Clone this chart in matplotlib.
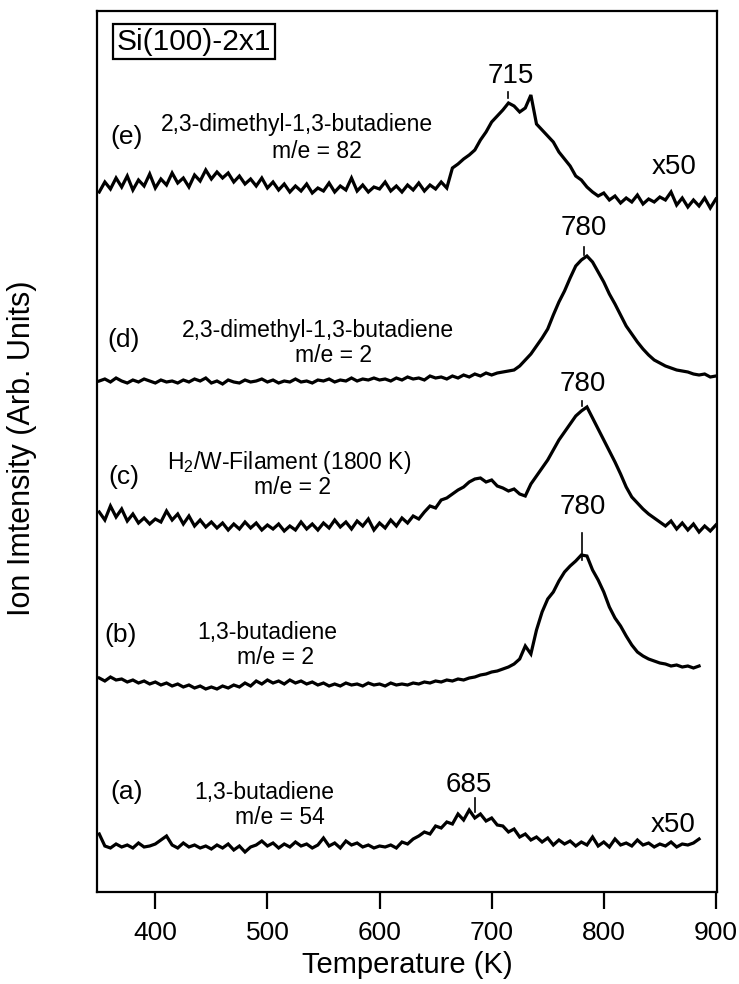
import numpy as np
import matplotlib
matplotlib.use("Agg")
import matplotlib.pyplot as plt

plt.rcParams['font.family'] = ['Liberation Sans', 'DejaVu Sans']
plt.rcParams['mathtext.fontset'] = 'custom'
plt.rcParams['mathtext.rm'] = 'Liberation Sans'

# ---- data (ion intensity, arbitrary units incl. vertical offsets), T from 350 K in 5 K steps ----
T_START = 350
T_STEP = 5

curve_e = [700, 710, 703, 714, 705, 716, 702, 712, 706, 718, 704, 713, 707, 719, 709, 714,
           705, 717, 711, 722, 713, 720, 714, 719, 710, 716, 708, 713, 706, 714, 704, 710,
           702, 708, 700, 706, 701, 708, 699, 704, 701, 709, 700, 706, 702, 714, 701, 707,
           700, 705, 703, 710, 701, 706, 700, 707, 702, 709, 701, 707, 703, 710, 704, 724,
           728, 733, 737, 742, 752, 760, 770, 776, 782, 789, 786, 780, 784, 797, 768, 762,
           756, 750, 740, 733, 726, 716, 712, 705, 700, 696, 699, 692, 696, 689, 694, 690,
           697, 688, 693, 690, 695, 692, 700, 687, 694, 685, 692, 686, 694, 684, 693]

curve_d = [511, 513, 510, 514, 511, 509, 512, 510, 513, 511, 509, 512, 510, 511, 509, 512,
           510, 513, 511, 514, 509, 511, 508, 512, 510, 509, 512, 510, 511, 513, 510, 512,
           509, 511, 510, 513, 510, 511, 509, 512, 511, 513, 510, 512, 511, 514, 511, 513,
           512, 514, 512, 513, 511, 514, 512, 515, 513, 514, 512, 516, 514, 515, 513, 516,
           514, 517, 515, 518, 516, 519, 517, 519, 520, 521, 522, 526, 532, 538, 546, 554,
           563, 577, 590, 601, 614, 626, 632, 636, 630, 620, 610, 598, 588, 577, 566, 558,
           550, 543, 537, 532, 529, 526, 524, 522, 521, 520, 518, 517, 518, 515, 516]

curve_c = [380, 372, 386, 375, 383, 371, 378, 369, 374, 368, 373, 370, 381, 372, 378, 368,
           376, 366, 372, 365, 370, 364, 369, 362, 368, 363, 370, 364, 369, 362, 367, 363,
           368, 361, 366, 362, 370, 363, 368, 362, 369, 364, 372, 365, 370, 363, 371, 366,
           373, 362, 369, 364, 372, 366, 374, 369, 376, 373, 380, 386, 384, 392, 394, 398,
           402, 405, 410, 413, 414, 410, 412, 406, 404, 401, 403, 398, 396, 408, 416, 424,
           432, 442, 452, 460, 468, 476, 481, 485, 474, 463, 452, 441, 430, 418, 405, 395,
           389, 383, 378, 374, 370, 366, 371, 363, 369, 362, 368, 360, 366, 361, 367]

curve_b = [214, 211, 215, 212, 213, 210, 212, 209, 211, 208, 210, 207, 209, 206, 208, 205,
           207, 204, 206, 203, 205, 203, 206, 204, 207, 205, 209, 206, 211, 208, 212, 209,
           211, 208, 212, 209, 211, 208, 210, 207, 209, 206, 208, 206, 209, 207, 208, 206,
           209, 207, 208, 206, 209, 207, 208, 207, 209, 208, 210, 209, 211, 210, 212, 211,
           213, 212, 214, 215, 217, 218, 220, 221, 223, 225, 228, 233, 246, 238, 262, 280,
           293, 300, 311, 320, 326, 331, 337, 336, 322, 312, 300, 285, 274, 266, 256, 247,
           240, 236, 233, 231, 229, 228, 226, 227, 225, 226, 224, 226]

curve_a = [58, 46, 44, 48, 45, 47, 44, 49, 45, 46, 48, 52, 56, 47, 44, 49,
           45, 47, 44, 46, 43, 47, 44, 48, 42, 46, 40, 45, 47, 51, 46, 49,
           44, 48, 45, 50, 46, 48, 44, 47, 54, 46, 49, 44, 51, 47, 49, 45,
           47, 44, 46, 45, 47, 44, 50, 48, 53, 56, 60, 58, 66, 64, 70, 68,
           78, 72, 82, 74, 78, 71, 74, 67, 66, 60, 63, 55, 58, 52, 55, 50,
           54, 47, 52, 48, 51, 46, 50, 47, 55, 46, 50, 45, 53, 47, 49, 46,
           52, 47, 49, 45, 48, 46, 50, 45, 48, 47, 49, 53]

curves = [curve_a, curve_b, curve_c, curve_d, curve_e]

letters = ['(a)', '(b)', '(c)', '(d)', '(e)']
letter_pos = [(374, 100), (369, 257), (372, 415), (372, 552), (374, 755)]
names = ['1,3-butadiene', '1,3-butadiene', r'H$_\mathrm{2}$/W-Filament (1800 K)',
         '2,3-dimethyl-1,3-butadiene', '2,3-dimethyl-1,3-butadiene']
name_pos = [(497, 100), (500, 259), (519, 430), (545, 561), (526, 767)]
masses = ['m/e = 54', 'm/e = 2', 'm/e = 2', 'm/e = 2', 'm/e = 82']
mass_pos = [(511, 75), (507, 234), (522, 404), (559, 536), (544, 741)]

peak_labels = ['685', '780', '780', '780', '715']
peak_text_pos = [(680, 107), (781, 385), (781, 508), (782, 664), (717, 816)]
peak_ticks = [(685, 80, 94), (781, 332, 359), (781, 486, 491), (782, 637, 645), (715, 794, 800)]

scale_labels = ['x50', 'x50']
scale_pos = [(862, 67), (863, 725)]

x_ticks = [400, 500, 600, 700, 800, 900]

# ---- figure ----
W, H = 739, 984
fig = plt.figure(figsize=(W / 100, H / 100), dpi=100)
ax = fig.add_axes([97 / W, (H - 892) / H, (717 - 97) / W, (892 - 11) / H])

for vals in curves:
    T = np.arange(T_START, T_START + T_STEP * len(vals), T_STEP)
    ax.plot(T, vals, color='black', lw=2.3, solid_joinstyle='miter')

for lab, (x, y) in zip(letters, letter_pos):
    ax.text(x, y, lab, fontsize=19, ha='center', va='center')
for lab, (x, y) in zip(names, name_pos):
    ax.text(x, y, lab, fontsize=16.5, ha='center', va='center')
for lab, (x, y) in zip(masses, mass_pos):
    ax.text(x, y, lab, fontsize=16.5, ha='center', va='center')
for lab, (x, y) in zip(peak_labels, peak_text_pos):
    ax.text(x, y, lab, fontsize=20, ha='center', va='center')
for (x, y0, y1) in peak_ticks:
    ax.plot([x, x], [y0, y1], color='black', lw=1.2)
for lab, (x, y) in zip(scale_labels, scale_pos):
    ax.text(x, y, lab, fontsize=20, ha='center', va='center')

ax.text(0.156, 0.965, 'Si(100)-2x1', transform=ax.transAxes, fontsize=21.5,
        ha='center', va='center',
        bbox=dict(boxstyle='square,pad=0.12', fc='white', ec='black', lw=1.6))

ax.set_xlim(348, 901)
ax.set_ylim(0, 881)
ax.set_xticks(x_ticks)
ax.set_xticklabels([str(t) for t in x_ticks])
ax.set_yticks([])
ax.tick_params(axis='x', direction='out', length=12, width=1.6, labelsize=19, pad=9)
for s in ax.spines.values():
    s.set_linewidth(1.6)

ax.set_xlabel('Temperature (K)', fontsize=21, labelpad=4)
fig.text(22 / W, (H - 448) / H, 'Ion Imtensity (Arb. Units)', rotation=90,
         fontsize=22, ha='center', va='center')

fig.savefig('out.png', dpi=100)
